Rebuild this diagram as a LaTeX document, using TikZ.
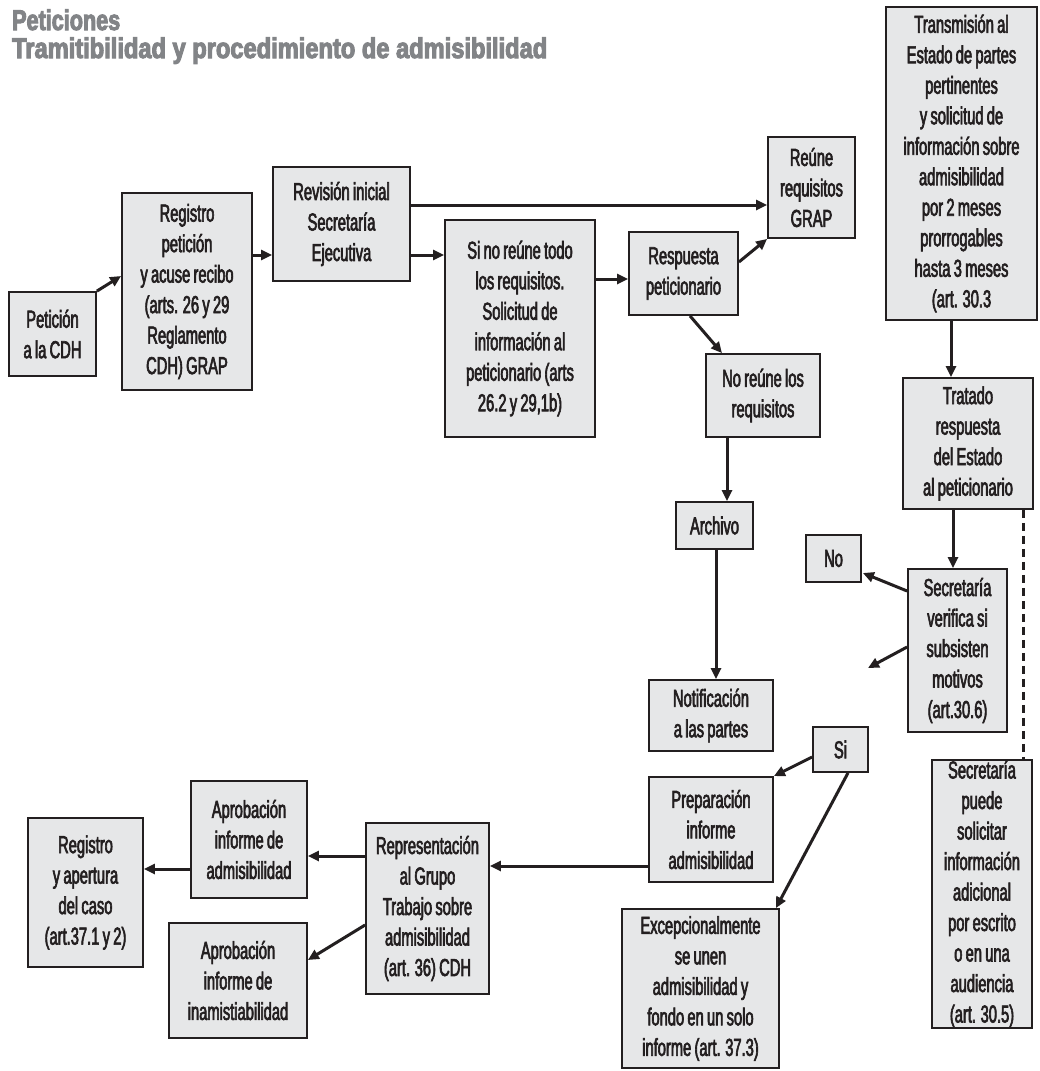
\documentclass[tikz,border=0pt]{standalone}
\usepackage{fontspec}
\usepackage{graphicx}
\setmainfont{Liberation Sans}[FakeStretch=0.6,FakeBold=2.5,WordSpace=0.8]
\newfontfamily\titlefont{Liberation Sans}[FakeStretch=0.8,FakeBold=3.5]
\usetikzlibrary{arrows.meta}
\definecolor{boxfill}{RGB}{230,231,232}
\definecolor{boxline}{RGB}{35,31,32}
\definecolor{titlegray}{RGB}{130,132,135}
\begin{document}
\begin{tikzpicture}[x=1pt,y=-1pt,
  box/.style 2 args={draw=boxline, line width=1.8pt, fill=boxfill, inner sep=0pt,
    text width=#1, minimum width=#1, minimum height=#2, align=flush center,
    font=\fontsize{24.5}{30.5}\selectfont, text=boxline},
  arr/.style={draw=boxline, line width=3pt, -{Triangle[length=11pt,width=10pt]}},
  dashline/.style={draw=boxline, line width=3pt, dash pattern=on 8pt off 5pt},
  ttl/.style={anchor=base west, inner sep=0pt, text=titlegray,
    font=\titlefont\bfseries\fontsize{28.5}{32}\selectfont}]
\fill[white] (0,0) rectangle (1039,1071);
\useasboundingbox (0,0) rectangle (1039,1071);

% titles
\node[ttl] (t1) at (12,30) {\resizebox{108pt}{\height}{Peticiones}};
\node[ttl] (t2) at (12,58) {\resizebox{535pt}{\height}{Tramitibilidad y procedimiento de admisibilidad}};

% boxes
\node[box={87pt}{84pt}] (pet) at (52.5,334) {Petición\\a la CDH};
\node[box={130pt}{197pt}] (reg) at (187,291.5) {Registro\\petición\\y acuse recibo\\(arts. 26 y 29\\Reglamento\\CDH) GRAP};
\node[box={137pt}{114pt}] (rev) at (341.5,224) {Revisión inicial\\Secretaría\\Ejecutiva};
\node[box={150pt}{217pt}] (sino) at (520,328.5) {Si no reúne todo\\los requisitos.\\Solicitud de\\información al\\peticionario (arts\\26.2 y 29,1b)};
\node[box={109pt}{83pt}] (resp) at (683.5,273.5) {Respuesta\\peticionario};
\node[box={87pt}{101pt}] (reune) at (811.5,187.5) {Reúne\\requisitos\\GRAP};
\node[box={114pt}{83pt}] (noreune) at (763,395.5) {No reúne los\\requisitos};
\node[box={77pt}{47pt}] (arch) at (714.5,525.5) {Archivo};
\node[box={124pt}{71pt}] (notif) at (711,715.5) {Notificación\\a las partes};
\node[box={151pt}{313pt}] (trans) at (961.5,163.5) {Transmisión al\\Estado de partes\\pertinentes\\y solicitud de\\información sobre\\admisibilidad\\por 2 meses\\prorrogables\\hasta 3 meses\\(art. 30.3};
\node[box={130pt}{131pt}] (trat) at (968,443.5) {Tratado\\respuesta\\del Estado\\al peticionario};
\node[box={99pt}{163pt}] (secv) at (957.5,650.5) {Secretaría\\verifica si\\subsisten\\motivos\\(art.30.6)};
\node[box={55pt}{47pt}] (no) at (833.5,558.5) {No};
\node[box={55pt}{45pt}] (si) at (840.5,749.5) {Si};
\node[box={124pt}{105pt}] (prep) at (711,829.5) {Preparación\\informe\\admisibilidad};
\node[box={157pt}{159pt}] (exc) at (700.5,988.5) {Excepcionalmente\\se unen\\admisibilidad y\\fondo en un solo\\informe (art. 37.3)};
\node[box={100pt}{268pt}] (secp) at (982,894) {Secretaría\\puede\\solicitar\\información\\adicional\\por escrito\\o en una\\audiencia\\(art. 30.5)};
\node[box={123pt}{171pt}] (repr) at (427.5,908.5) {Representación\\al Grupo\\Trabajo sobre\\admisibilidad\\(art. 36) CDH};
\node[box={116pt}{117pt}] (aadm) at (249,839.5) {Aprobación\\informe de\\admisibilidad};
\node[box={138pt}{115pt}] (ainam) at (238,980.5) {Aprobación\\informe de\\inamistiabilidad};
\node[box={115pt}{149pt}] (regap) at (85.5,892.5) {Registro\\y apertura\\del caso\\(art.37.1 y 2)};

\coordinate (vfree) at (868,668);

% connectors
\draw[arr] (pet.north east) -- ([yshift=15.5pt]reg.west);
\draw[arr] ([yshift=36.5pt]reg.east) -- ([yshift=-31pt]rev.west);
\draw[arr] ([yshift=19pt]rev.east) -- ([yshift=-17.5pt]reune.west);
\draw[arr] ([yshift=-31pt]rev.east) -- ([yshift=73.5pt]sino.west);
\draw[arr] ([yshift=49.5pt]sino.east) -- ([yshift=-5.5pt]resp.west);
\draw[arr] ([yshift=11.5pt]resp.east) -- (reune.south west);
\draw[arr] ([xshift=6.5pt]resp.south) -- ([xshift=-41pt]noreune.north);
\draw[arr] ([xshift=-36pt]noreune.south) -- ([xshift=-36pt]noreune.south |- arch.north);
\draw[arr] ([xshift=1.5pt]arch.south) -- ([xshift=1.5pt]arch.south |- notif.north);
\draw[arr] ([xshift=-10.5pt]trans.south) -- ([xshift=-10.5pt]trans.south |- trat.north);
\draw[arr] ([xshift=-4.5pt]secv.north |- trat.south) -- ([xshift=-4.5pt]secv.north);
\draw[arr] ([yshift=59.5pt]secv.west) -- ([yshift=-14.5pt,xshift=1pt]no.east);
\draw[arr] ([yshift=3.5pt]secv.west) -- (vfree);
\draw[arr] ([yshift=-7.5pt]si.west) -- (prep.north east);
\draw[arr] ([xshift=7.5pt]si.south) -- ([xshift=-4pt]exc.north east);
\draw[arr] ([yshift=-36.5pt]prep.west) -- ([yshift=42.5pt]repr.east);
\draw[arr] ([yshift=52.5pt]repr.west) -- ([yshift=-16.5pt]aadm.east);
\draw[arr] ([yshift=-29.5pt]aadm.west) -- ([yshift=23.5pt]regap.east);
\draw[arr] ([yshift=-16.5pt]repr.west) -- ([yshift=20.5pt]ainam.east);
\draw[dashline] ([xshift=41pt]secp.north |- trat.south) -- ([xshift=41pt]secp.north);
\end{tikzpicture}
\end{document}
